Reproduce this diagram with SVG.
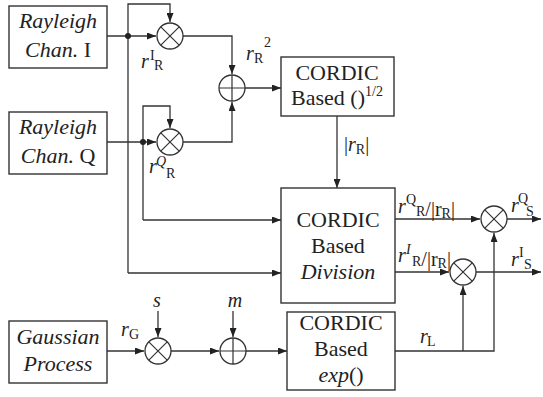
<svg xmlns="http://www.w3.org/2000/svg" width="543" height="397" viewBox="0 0 543 397" font-family="'Liberation Serif', 'DejaVu Serif', serif">
<defs>
<marker id="ah" markerWidth="9" markerHeight="7" refX="9" refY="3.5" orient="auto" markerUnits="userSpaceOnUse"><path d="M0,0 L9,3.5 L0,7 z" fill="#222"/></marker>
<style>
.box{fill:#fff;stroke:#333;stroke-width:1.4}
.ln{fill:none;stroke:#333;stroke-width:1.3}
.arr{marker-end:url(#ah)}
.op{fill:#fff;stroke:#333;stroke-width:1.3}
.x{stroke:#333;stroke-width:1.2}
text{font-family:'Liberation Serif','DejaVu Serif',serif;fill:#222}
.t{font-size:22px;text-anchor:middle}
.it{font-style:italic}
.lb{font-size:20px}
.sm{font-size:14px}
.mid{text-anchor:middle}
</style>
</defs>
<rect width="543" height="397" fill="#fff"/>

<g id="connectors">
<path class="ln arr" d="M128,273 L128,4 L170,4 L170,22"/>
<path class="ln arr" d="M128,273 L281,273"/>
<path class="ln arr" d="M143,220 L143,106 L170,106 L170,128"/>
<path class="ln arr" d="M143,220 L281,220"/>
<path class="ln arr" d="M107,36 L156,36"/>
<path class="ln arr" d="M107,142 L156,142"/>
<circle cx="128" cy="36" r="3" fill="#222"/>
<circle cx="143" cy="142" r="3" fill="#222"/>
<path class="ln arr" d="M183,36 L232,36 L232,74"/>
<path class="ln arr" d="M183,142 L232,142 L232,102"/>
<path class="ln arr" d="M245,88 L281,88"/>
<path class="ln arr" d="M337,116 L337,188"/>
<path class="ln arr" d="M395,219 L480,219"/>
<path class="ln arr" d="M507,219 L541,219"/>
<path class="ln arr" d="M395,272 L449,272"/>
<path class="ln arr" d="M476,272 L541,272"/>
<path class="ln arr" d="M395,351 L494,351 L494,233"/>
<path class="ln arr" d="M463,351 L463,286"/>
<path class="ln arr" d="M107,351 L144,351"/>
<path class="ln arr" d="M158,311 L158,337"/>
<path class="ln arr" d="M171,351 L219,351"/>
<path class="ln arr" d="M233,311 L233,337"/>
<path class="ln arr" d="M246,351 L287,351"/>
</g>

<g id="chanI">
<rect class="box" x="9" y="6" width="98" height="62"/>
<text class="t it" x="58" y="28">Rayleigh</text>
<text class="t" x="58" y="57"><tspan class="it">Chan.</tspan> I</text>
</g>
<g id="chanQ">
<rect class="box" x="9" y="112" width="98" height="62"/>
<text class="t it" x="58" y="134">Rayleigh</text>
<text class="t" x="58" y="163"><tspan class="it">Chan.</tspan> Q</text>
</g>
<g id="gauss">
<rect class="box" x="9" y="321" width="98" height="62"/>
<text class="t it" x="58" y="344">Gaussian</text>
<text class="t it" x="58" y="371">Process</text>
</g>
<g id="sqrt">
<rect class="box" x="281" y="57" width="113" height="59"/>
<text class="t" x="337" y="80">CORDIC</text>
<text class="t" x="337" y="105">Based ()<tspan font-size="14" dy="-9">1/2</tspan></text>
</g>
<g id="division">
<rect class="box" x="281" y="188" width="114" height="115"/>
<text class="t" x="338" y="227">CORDIC</text>
<text class="t" x="338" y="253">Based</text>
<text class="t it" x="338" y="279">Division</text>
</g>
<g id="exp">
<rect class="box" x="287" y="312" width="108" height="78"/>
<text class="t" x="341" y="330">CORDIC</text>
<text class="t" x="341" y="356">Based</text>
<text class="t" x="341" y="382"><tspan class="it">exp</tspan>()</text>
</g>

<g id="multI">
<circle class="op" cx="170" cy="36" r="13"/>
<path class="x" d="M160.8,26.8 L179.2,45.2 M179.2,26.8 L160.8,45.2"/>
</g>
<g id="multQ">
<circle class="op" cx="170" cy="142" r="13"/>
<path class="x" d="M160.8,132.8 L179.2,151.2 M179.2,132.8 L160.8,151.2"/>
</g>
<g id="add1">
<circle class="op" cx="232" cy="88" r="13"/>
<path class="x" d="M219,88 L245,88 M232,75 L232,101"/>
</g>
<g id="multQS">
<circle class="op" cx="494" cy="219" r="13"/>
<path class="x" d="M484.8,209.8 L503.2,228.2 M503.2,209.8 L484.8,228.2"/>
</g>
<g id="multIS">
<circle class="op" cx="463" cy="272" r="13"/>
<path class="x" d="M453.8,262.8 L472.2,281.2 M472.2,262.8 L453.8,281.2"/>
</g>
<g id="multG">
<circle class="op" cx="158" cy="351" r="13"/>
<path class="x" d="M148.8,341.8 L167.2,360.2 M167.2,341.8 L148.8,360.2"/>
</g>
<g id="add2">
<circle class="op" cx="233" cy="351" r="13"/>
<path class="x" d="M220,351 L246,351 M233,338 L233,364"/>
</g>

<g id="labels">
<text class="lb it" x="141" y="68">r</text><text class="sm" x="150" y="60">I</text><text class="sm" x="154" y="70">R</text>
<text class="lb it" x="246" y="60">r</text><text class="sm" x="254" y="63">R</text><text class="sm" x="264" y="47">2</text>
<text class="lb it" x="149" y="173">r</text><text class="sm it" x="156" y="166">Q</text><text class="sm" x="166" y="178">R</text>
<text class="lb" x="344" y="151">|<tspan class="it">r</tspan><tspan class="sm" dy="3">R</tspan><tspan dy="-3">|</tspan></text>
<text class="lb it" x="398" y="213">r</text><text class="sm" x="406" y="204">Q</text>
<text x="416" y="216"><tspan class="sm">R</tspan><tspan class="lb">/|r</tspan><tspan class="sm" dy="2">R</tspan><tspan class="lb" dy="-2">|</tspan></text>
<text class="lb it" x="398" y="262">r</text><text class="sm it" x="406" y="254">I</text>
<text x="412" y="266"><tspan class="sm">R</tspan><tspan class="lb">/|r</tspan><tspan class="sm" dy="2">R</tspan><tspan class="lb" dy="-2">|</tspan></text>
<text class="lb it" x="511" y="212">r</text><text class="sm" x="518" y="203">Q</text><text class="sm" x="526" y="216">S</text>
<text class="lb it" x="511" y="266">r</text><text class="sm" x="519" y="257">I</text><text class="sm" x="524" y="269">S</text>
<text class="lb it" x="121" y="336">r</text><text class="sm" x="129" y="339">G</text>
<text class="lb it mid" x="157" y="307">s</text>
<text class="lb it mid" x="235" y="307">m</text>
<text class="lb it" x="420" y="343">r</text><text class="sm" x="427" y="346">L</text>
</g>
</svg>
